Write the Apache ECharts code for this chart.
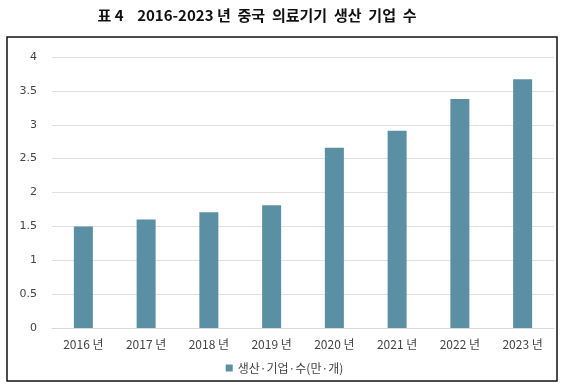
<!DOCTYPE html>
<html><head><meta charset="utf-8">
<script src="https://cdn.jsdelivr.net/npm/echarts@6/dist/echarts.min.js"></script>
<style>html,body{margin:0;padding:0;background:#fff}#c{width:569px;height:388px}</style>
</head><body><div id="c"></div>
<script>
const categories = ['2016 년','2017 년','2018 년','2019 년','2020 년','2021 년','2022 년','2023 년'];
const values = [1.5, 1.6, 1.71, 1.81, 2.66, 2.91, 3.38, 3.67];
const seriesName = '생산·기업·수(만·개)';
const titleText = '표 4    2016-2023 년  중국  의료기기  생산  기업  수';

const chart = echarts.init(document.getElementById('c'));
chart.setOption({
  animation: false,
  title: {
    text: titleText, left: 252, top: 3, textAlign: 'center',
    textStyle: {fontFamily: 'Noto Sans CJK KR', fontSize: 15, fontWeight: 'bold', color: '#111'}
  },
  graphic: [{type: 'rect', shape: {x: 7, y: 37, width: 550, height: 344},
    style: {fill: 'none', stroke: '#111', lineWidth: 1.5}, silent: true}],
  legend: {
    data: [seriesName], top: 357, left: 'center', itemWidth: 7, itemHeight: 7, itemGap: 5,
    icon: 'rect',
    textStyle: {fontFamily: 'Noto Sans CJK KR', fontSize: 12, color: '#444'}
  },
  grid: {left: 52, right: 15, top: 57, bottom: 60},
  xAxis: {
    type: 'category', data: categories,
    axisLine: {lineStyle: {color: '#d9d9d9'}}, axisTick: {show: false},
    axisLabel: {fontFamily: 'Noto Sans CJK KR', fontSize: 12, color: '#444', margin: 10}
  },
  yAxis: {
    type: 'value', min: 0, max: 4, interval: 0.5,
    axisLine: {show: false}, axisTick: {show: false},
    splitLine: {lineStyle: {color: '#e0e0e0'}},
    axisLabel: {fontFamily: 'DejaVu Sans', fontSize: 11, color: '#444', margin: 15}
  },
  series: [{
    name: seriesName, type: 'bar', data: values, barWidth: 19,
    itemStyle: {color: '#5b8fa3'}
  }]
});
</script></body></html>
